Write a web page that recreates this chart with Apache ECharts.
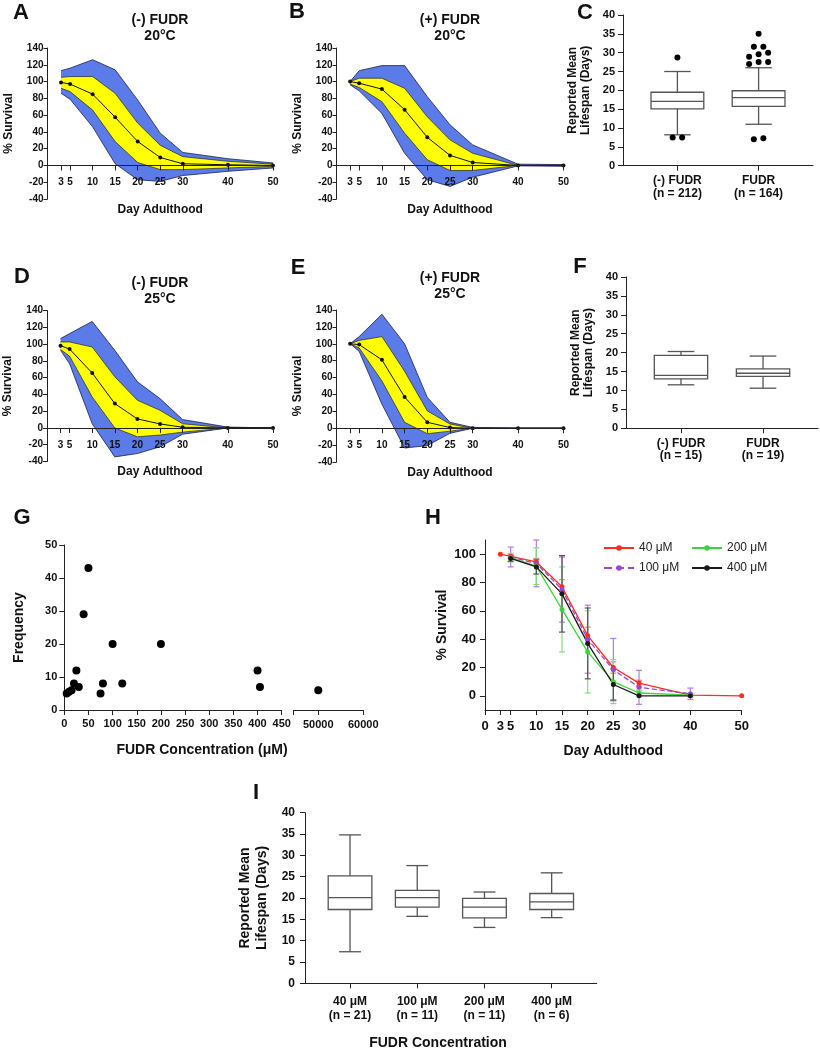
<!DOCTYPE html>
<html>
<head>
<meta charset="utf-8">
<title>FUDR lifespan figure</title>
<script src="https://cdn.jsdelivr.net/npm/echarts@6.0.0/dist/echarts.min.js"></script>
<style>
  html, body { margin: 0; padding: 0; background: #fff; }
  #chart { width: 820px; height: 1050px; }
</style>
</head>
<body>
<div id="chart"></div>
<script>
// ---- values ----
const days = [3, 5, 10, 15, 20, 25, 30, 40, 50]
const dayTicks = [3, 5, 10, 15, 20, 25, 30, 40, 50]
const hDayTicks = [0, 3, 5, 10, 15, 20, 25, 30, 40, 50]
const hSurvTicks = [0, 20, 40, 60, 80, 100]

// A: (-) FUDR 20°C
const aMean = [99, 97, 85, 57.5, 28.5, 9.5, 2, 0.8, 0]
const aYelLo = [92, 88, 66, 28.5, 3.5, -5, -5, -3, -1]
const aYelHi = [105, 106, 106, 86, 50.5, 24, 10.5, 5, 1.5]
const aBlueLo = [86, 79, 46, 2, -17, -19, -12, -7, -3]
const aBlueHi = [113, 116, 126, 114, 78, 38.5, 15.5, 8, 3]

// B: (+) FUDR 20°C
const bMean = [100, 98, 91, 66.5, 33.5, 12, 3.5, 0, 0]
const bYelLo = [97, 93, 76, 38.5, 6.8, -6, -6, 0, 0]
const bYelHi = [100, 104, 104, 92, 58, 30.5, 14.5, 0, 0]
const bBlueLo = [96, 89, 62, 14.5, -17, -25, -14, -0.5, -1]
const bBlueHi = [100, 113, 119, 119, 82, 48.5, 24.5, 1.5, 1]

// D: (-) FUDR 25°C
const dMean = [98, 94, 65.5, 29, 10.7, 4.8, 0.8, 0, 0]
const dYelLo = [93.5, 85.5, 37, 0, -10.5, -8.5, -5, 0, 0]
const dYelHi = [102.5, 102.5, 96.5, 61, 33, 21, 5, 0, 0]
const dBlueLo = [92.5, 76.5, 5, -34.5, -30.5, -22.5, -7.5, 0, 0]
const dBlueHi = [106.5, 112.5, 127, 92.5, 55, 35, 10, 1, 0]

// E: (+) FUDR 25°C
const eMean = [100, 99, 81, 37, 7, 0.8, 0, 0, 0]
const eYelLo = [100, 95, 56, 7, -6.5, -3.5, 0, 0, 0]
const eYelHi = [100, 104, 108.5, 67.5, 20.5, 5, 0, 0, 0]
const eBlueLo = [100, 91, 28.5, -23.5, -20.5, -6, 0, 0, 0]
const eBlueHi = [100, 108.5, 135, 100, 36.5, 7, 1, 0, 0]

// box plots: [min, q1, median, q3, max]
const cCats = ['(-) FUDR\n(n = 212)', 'FUDR\n(n = 164)']
const cBoxes = [[8.2, 15.1, 17.1, 19.5, 25], [11, 15.75, 18.05, 19.9, 26]]
const cOutliers = [[28.7, 7.5, 7.5], [35, 31.6, 31.6, 30, 29.6, 28.9, 27.5, 27.5, 27, 7.3, 7]]
const fCats = ['(-) FUDR\n(n = 15)', 'FUDR\n(n = 19)']
const fBoxes = [[11.5, 13.05, 14, 19.3, 20.3], [10.6, 13.75, 14.55, 15.7, 19.1]]
const iCats = ['40 μM\n(n = 21)', '100 μM\n(n = 11)', '200 μM\n(n = 11)', '400 μM\n(n = 6)']
const iBoxes = [
  [7.4, 17.3, 20.1, 25.2, 34.8],
  [15.7, 17.85, 20.1, 21.8, 27.6],
  [13.1, 15.35, 17.85, 19.9, 21.4],
  [15.4, 17.3, 19.1, 21.05, 25.9]
]

// G: frequency of FUDR concentrations
const gConc = [5, 10, 15, 20, 25, 30, 40, 50, 75, 80, 100, 120, 200, 400, 405, 50000]
const gFreq = [5, 5.5, 6, 8, 12, 7, 29, 43, 5, 8, 20, 8, 20, 12, 7, 6]

// H: survival per dose (mean and sd)
const hNames = ['40 μM', '100 μM', '200 μM', '400 μM']
const h40 = [100, 98.5, 94.5, 77, 42.5, 20, 9, 0.5, 0]
const h100 = [null, 98, 93.5, 75, 40, 18.5, 6, 1.5, null]
const h200 = [null, 97.5, 91.5, 61, 31, 10, 2, 0.5, null]
const h400 = [null, 97, 91, 72, 37, 8, 0, 0, null]
const h40Sd = [0, 1.5, 2.5, 5, 6, 4, 2, 1, 0]
const h100Sd = [0, 7, 16.5, 23, 24, 22, 12, 4, 0]
const h200Sd = [0, 3, 13, 30, 29, 15.5, 2, 1, 0]
const h400Sd = [0, 2, 5, 27, 25, 11, 0, 0, 0]

// ---- styling ----
const FONT = '"Liberation Sans", Arial, Helvetica, sans-serif'
const INK = '#111'
const BLUE = '#5b7be9'
const YELLOW = '#ffff00'
const EDGE = '#1d2147'
const BOX = '#555'

const bold = (size, extra) => Object.assign({ fontFamily: FONT, fontWeight: 'bold', fontSize: size, color: INK }, extra || {})
const axisLine = { show: true, onZero: false, lineStyle: { color: '#222', width: 1 } }

const grids = []
const xAxes = []
const yAxes = []
const series = []
const graphics = []

function addGrid(left, top, width, height) {
  grids.push({ left, top, width, height, containLabel: false, outerBoundsMode: 'none' })
  return grids.length - 1
}

function label(str, x, y, size, extra) {
  graphics.push({
    type: 'text', x, y, silent: true,
    style: Object.assign({ text: str, font: `bold ${size}px ${FONT}`, fill: INK, align: 'center', verticalAlign: 'middle' }, extra || {})
  })
}

// filled band between two curves, outlined on both edges
function band(xi, yi, lo, hi, fill, stroke, z) {
  return {
    type: 'custom', xAxisIndex: xi, yAxisIndex: yi, silent: true, z,
    encode: { x: 0, y: [1, 2] },
    data: days.map((d, i) => [d, lo[i], hi[i]]),
    renderItem(params, api) {
      if (params.dataIndex !== 0) return null
      const top = days.map((d, i) => api.coord([d, hi[i]]))
      const bot = days.map((d, i) => api.coord([d, lo[i]]))
      const edge = { stroke, lineWidth: 0.8, fill: null }
      return {
        type: 'group',
        children: [
          { type: 'polygon', shape: { points: top.concat(bot.slice().reverse()) }, style: { fill, stroke: null } },
          { type: 'polyline', shape: { points: top }, style: edge },
          { type: 'polyline', shape: { points: bot }, style: edge }
        ]
      }
    }
  }
}

function survivalPanel(left, top, width, height, p) {
  const g = addGrid(left, top, width, height)
  const yMin = -40
  const yMax = 140
  xAxes.push({
    gridIndex: g, type: 'value', min: 0, max: 50, z: 10,
    // axis sits on y = 0
    offset: -height * (0 - yMin) / (yMax - yMin),
    name: 'Day Adulthood', nameLocation: 'middle', nameGap: 38, nameTextStyle: bold(12),
    axisLine,
    axisTick: { customValues: dayTicks, length: 5, lineStyle: { color: '#222' } },
    axisLabel: Object.assign({ customValues: dayTicks, margin: 12 }, bold(10)),
    splitLine: { show: false }
  })
  yAxes.push({
    gridIndex: g, type: 'value', min: yMin, max: yMax, interval: 20,
    name: '% Survival', nameLocation: 'middle', nameRotate: 90, nameGap: 33, nameTextStyle: bold(12),
    axisLine, axisTick: { show: true, length: 4, lineStyle: { color: '#222' } },
    axisLabel: Object.assign({ margin: 4 }, bold(10)),
    splitLine: { show: false }
  })
  const xi = xAxes.length - 1
  const yi = yAxes.length - 1
  series.push(
    band(xi, yi, p.blueLo, p.blueHi, BLUE, EDGE, 2),
    band(xi, yi, p.yelLo, p.yelHi, YELLOW, '#333', 3),
    {
      type: 'line', xAxisIndex: xi, yAxisIndex: yi, silent: true,
      data: days.map((d, i) => [d, p.mean[i]]), symbol: 'circle', symbolSize: 4,
      itemStyle: { color: '#111', opacity: 1 }, lineStyle: { color: '#111', width: 1 }, z: 6
    }
  )
}

function renderBox(params, api) {
  const x = api.value(0)
  const w = api.size([1, 0])[0] * 0.65
  const [lo, q1, med, q3, hi] = [1, 2, 3, 4, 5].map((k) => api.coord([x, api.value(k)]))
  const cx = lo[0]
  const cap = w / 4
  const style = { stroke: api.visual('color'), fill: null, lineWidth: 1.3 }
  const seg = (x1, y1, x2, y2) => ({ type: 'line', shape: { x1, y1, x2, y2 }, style })
  return {
    type: 'group',
    children: [
      { type: 'rect', shape: { x: cx - w / 2, y: q3[1], width: w, height: q1[1] - q3[1] }, style: Object.assign({}, style, { fill: '#fff' }) },
      seg(cx - w / 2, med[1], cx + w / 2, med[1]),
      seg(cx, q3[1], cx, hi[1]), seg(cx - cap, hi[1], cx + cap, hi[1]),
      seg(cx, q1[1], cx, lo[1]), seg(cx - cap, lo[1], cx + cap, lo[1])
    ]
  }
}

function boxPanel(left, top, width, height, cats, boxes, o) {
  const g = addGrid(left, top, width, height)
  const idx = cats.map((c, i) => i)
  xAxes.push({
    gridIndex: g, type: 'value', min: -0.67, max: cats.length - 0.33,
    axisLine,
    axisTick: { customValues: idx, length: 5, lineStyle: { color: '#222' } },
    axisLabel: Object.assign({ customValues: idx, formatter: (v) => cats[Math.round(v)], margin: o.labelMargin }, bold(o.catFont, { lineHeight: o.catLine })),
    splitLine: { show: false }
  })
  yAxes.push({
    gridIndex: g, type: 'value', min: 0, max: 40, interval: 5,
    name: 'Reported Mean\nLifespan (Days)', nameLocation: 'middle', nameRotate: 90, nameGap: o.nameGap,
    nameTextStyle: bold(o.nameFont, { lineHeight: o.nameLine }),
    axisLine, axisTick: { show: true, length: 5, lineStyle: { color: '#222' } },
    axisLabel: Object.assign({ margin: o.tickMargin }, bold(o.tickFont)),
    splitLine: { show: false }
  })
  const xi = xAxes.length - 1
  const yi = yAxes.length - 1
  series.push({
    type: 'custom', xAxisIndex: xi, yAxisIndex: yi, silent: true,
    renderItem: renderBox, encode: { x: 0, y: [1, 2, 3, 4, 5] },
    itemStyle: { color: BOX },
    data: boxes.map((b, i) => [i].concat(b))
  })
  return { xi, yi }
}

// outliers sharing about the same value sit side by side, like the original plot
function spreadOutliers(groups) {
  const out = []
  groups.forEach((vals, gi) => {
    let row = []
    const flush = () => {
      row.forEach((v, k) => out.push({ value: [gi, v], symbolOffset: [(k - (row.length - 1) / 2) * 9.5, 0] }))
      row = []
    }
    vals.slice().sort((a, b) => a - b).forEach((v) => {
      if (row.length && v - row[0] > 1.2) flush()
      row.push(v)
    })
    flush()
  })
  return out
}

function renderErr(params, api) {
  const sd = api.value(2)
  if (!sd) return null
  const x = api.value(0)
  const m = api.value(1)
  const top = api.coord([x, m + sd])
  const bot = api.coord([x, m - sd])
  const style = { stroke: api.visual('color'), lineWidth: 1.2 }
  const seg = (x1, y1, x2, y2) => ({ type: 'line', shape: { x1, y1, x2, y2 }, style })
  return {
    type: 'group',
    children: [
      seg(top[0], top[1], bot[0], bot[1]),
      seg(top[0] - 3, top[1], top[0] + 3, top[1]),
      seg(bot[0] - 3, bot[1], bot[0] + 3, bot[1])
    ]
  }
}

// ---- panels A, B, D, E ----
survivalPanel(47.5, 48, 225.5, 151, { mean: aMean, yelLo: aYelLo, yelHi: aYelHi, blueLo: aBlueLo, blueHi: aBlueHi })
survivalPanel(336.5, 48, 227, 151, { mean: bMean, yelLo: bYelLo, yelHi: bYelHi, blueLo: bBlueLo, blueHi: bBlueHi })
survivalPanel(47, 310.5, 226, 151, { mean: dMean, yelLo: dYelLo, yelHi: dYelHi, blueLo: dBlueLo, blueHi: dBlueHi })
survivalPanel(336.5, 310, 227, 152, { mean: eMean, yelLo: eYelLo, yelHi: eYelHi, blueLo: eBlueLo, blueHi: eBlueHi })

// ---- panels C, F, I ----
const smallBox = { labelMargin: 9, catFont: 12, catLine: 12.5, nameGap: 31, nameFont: 12, nameLine: 13, tickMargin: 8, tickFont: 11 }
const c = boxPanel(623, 15, 190, 150.7, cCats, cBoxes, smallBox)
series.push({
  type: 'scatter', xAxisIndex: c.xi, yAxisIndex: c.yi, silent: true, z: 5,
  symbolSize: 6, itemStyle: { color: '#000', opacity: 1 },
  data: spreadOutliers(cOutliers)
})
boxPanel(626, 277, 192, 151.3, fCats, fBoxes, smallBox)
boxPanel(305, 812.7, 291.7, 170.6, iCats, iBoxes,
  { labelMargin: 11, catFont: 12, catLine: 14, nameGap: 35, nameFont: 14, nameLine: 16.5, tickMargin: 10, tickFont: 12 })

// ---- panel G (broken x axis: two grids) ----
const gLeft = addGrid(64.3, 545, 217.4, 165)
xAxes.push({
  gridIndex: gLeft, type: 'value', min: 0, max: 450, interval: 50,
  axisLine, axisTick: { length: 5, lineStyle: { color: '#222' } },
  axisLabel: Object.assign({ margin: 8 }, bold(11)), splitLine: { show: false }
})
yAxes.push({
  gridIndex: gLeft, type: 'value', min: 0, max: 50, interval: 10,
  name: 'Frequency', nameLocation: 'middle', nameRotate: 90, nameGap: 38, nameTextStyle: bold(14),
  axisLine, axisTick: { show: true, length: 5, lineStyle: { color: '#222' } },
  axisLabel: Object.assign({ margin: 7 }, bold(11)), splitLine: { show: false }
})
const gxA = xAxes.length - 1
const gyA = yAxes.length - 1
const gRight = addGrid(293.5, 545, 69.8, 165)
xAxes.push({
  gridIndex: gRight, type: 'value', min: 44500, max: 60000,
  axisLine, axisTick: { customValues: [44500, 50000, 60000], length: 5, lineStyle: { color: '#222' } },
  axisLabel: Object.assign({ customValues: [50000, 60000], margin: 9, formatter: (v) => String(v) }, bold(11)),
  splitLine: { show: false }
})
yAxes.push({ gridIndex: gRight, type: 'value', min: 0, max: 50, show: false })
const gPts = gConc.map((x, i) => [x, gFreq[i]])
const dot = { type: 'scatter', silent: true, symbolSize: 8, itemStyle: { color: '#000', opacity: 1 } }
series.push(
  Object.assign({}, dot, { xAxisIndex: gxA, yAxisIndex: gyA, data: gPts.filter((p) => p[0] <= 450) }),
  Object.assign({}, dot, { xAxisIndex: xAxes.length - 1, yAxisIndex: yAxes.length - 1, data: gPts.filter((p) => p[0] > 450) })
)

// ---- panel H ----
const hGrid = addGrid(485, 540, 256.7, 170)
xAxes.push({
  gridIndex: hGrid, type: 'value', min: 0, max: 50,
  name: 'Day Adulthood', nameLocation: 'middle', nameGap: 34, nameTextStyle: bold(14),
  axisLine, axisTick: { customValues: hDayTicks, length: 5, lineStyle: { color: '#222' } },
  axisLabel: Object.assign({ customValues: hDayTicks, margin: 10 }, bold(13)), splitLine: { show: false }
})
yAxes.push({
  gridIndex: hGrid, type: 'value', min: -10, max: 110,
  name: '% Survival', nameLocation: 'middle', nameRotate: 90, nameGap: 36, nameTextStyle: bold(14),
  axisLine, axisTick: { show: true, customValues: hSurvTicks, length: 5, lineStyle: { color: '#222' } },
  axisLabel: Object.assign({ customValues: hSurvTicks, margin: 9 }, bold(13)), splitLine: { show: false }
})
const hx = xAxes.length - 1
const hy = yAxes.length - 1
const hMeans = [h40, h100, h200, h400]
const hSds = [h40Sd, h100Sd, h200Sd, h400Sd]
const hLine = ['#ff2d1e', '#9b45d6', '#3fd23f', '#1a1a1a']
const hBar = ['#ff7b70', '#b877e6', '#7fe07f', '#555']
hNames.forEach((name, s) => {
  series.push({
    type: 'custom', xAxisIndex: hx, yAxisIndex: hy, silent: true, z: 2,
    renderItem: renderErr, encode: { x: 0, y: 1 }, itemStyle: { color: hBar[s] },
    data: days.map((d, i) => [d, hMeans[s][i], hSds[s][i]]).filter((r) => r[1] != null)
  })
  series.push({
    name, type: 'line', xAxisIndex: hx, yAxisIndex: hy, silent: true, z: 3,
    data: days.map((d, i) => [d, hMeans[s][i]]).filter((r) => r[1] != null),
    symbol: 'circle', symbolSize: 5,
    itemStyle: { color: hLine[s], opacity: 1 },
    lineStyle: { color: hLine[s], width: 1.3, type: s === 1 ? 'dashed' : 'solid' }
  })
})
const legendSpots = [[598, 537], [598, 557], [686, 537], [686, 557]]
const legends = hNames.map((n, i) => ({
  data: [n], left: legendSpots[i][0], top: legendSpots[i][1], orient: 'horizontal',
  itemWidth: 30, itemHeight: 7, selectedMode: false,
  textStyle: { fontFamily: FONT, fontSize: 12, color: '#222' }
}))

// ---- letters and titles ----
const letterPos = [['A', 21, 13], ['B', 297, 12], ['C', 585, 13], ['D', 22, 277], ['E', 298, 268], ['F', 580, 267], ['G', 22, 518], ['H', 433, 518], ['I', 256, 793]]
letterPos.forEach(([t, x, y]) => label(t, x, y, 22))
label('(-) FUDR', 160, 20, 14)
label('20°C', 160, 36, 14)
label('(+) FUDR', 450, 20, 14)
label('20°C', 450, 36, 14)
label('(-) FUDR', 160, 283, 14)
label('25°C', 160, 299, 14)
label('(+) FUDR', 450, 278, 14)
label('25°C', 450, 294, 14)
label('FUDR Concentration (μM)', 202, 750, 14)
label('FUDR Concentration', 438, 1043, 14)

const chart = echarts.init(document.getElementById('chart'), null, { renderer: 'canvas' })
chart.setOption({
  animation: false,
  backgroundColor: '#fff',
  grid: grids,
  xAxis: xAxes,
  yAxis: yAxes,
  legend: legends,
  graphic: graphics,
  series
})
</script>
</body>
</html>
